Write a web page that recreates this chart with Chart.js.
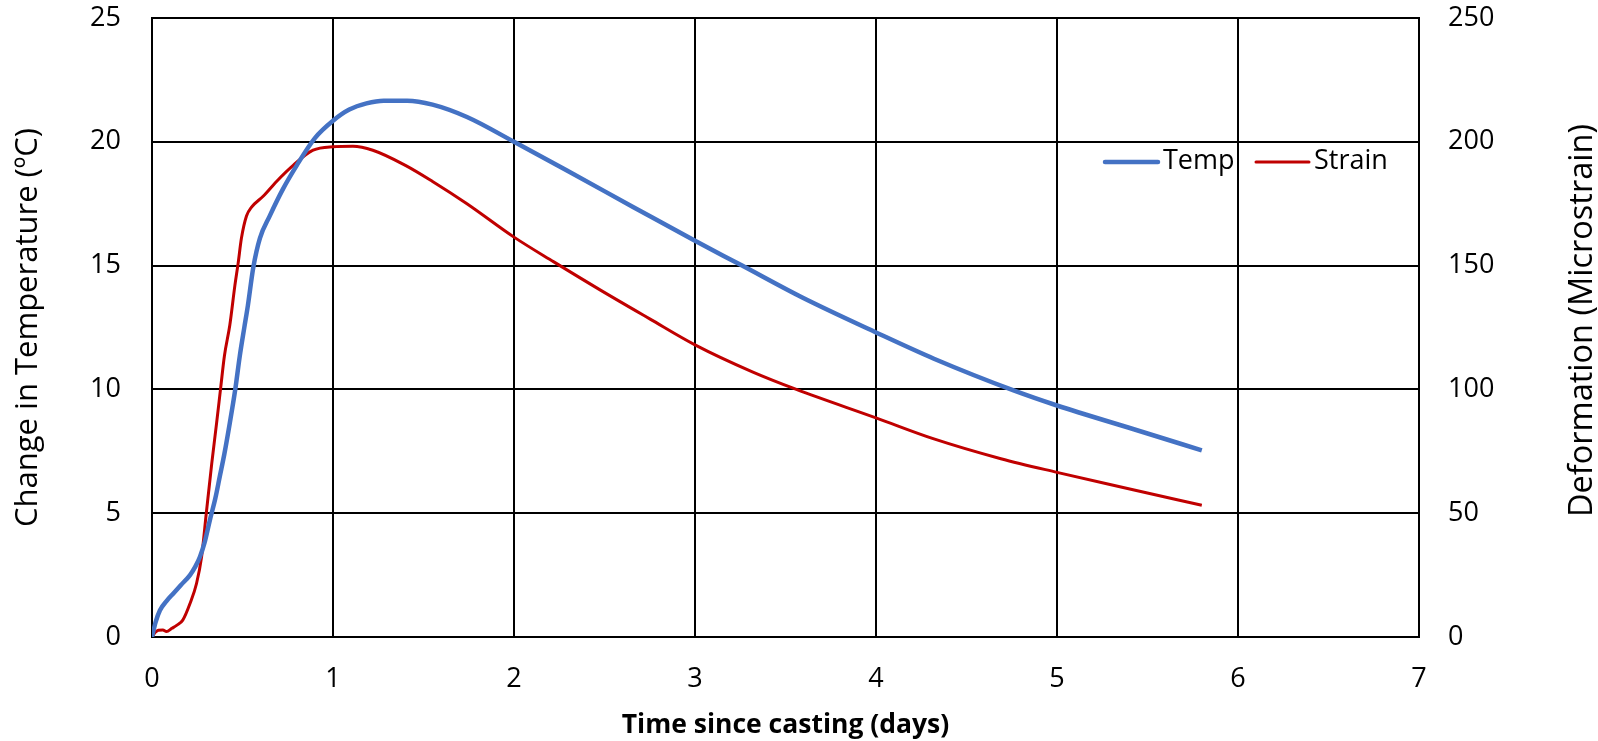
<!DOCTYPE html>
<html>
<head>
<meta charset="utf-8">
<script src="https://cdn.jsdelivr.net/npm/chart.js@4"></script>
<style>
  body { margin: 0; background: #fff; }
  #wrap { width: 1598px; height: 741px; }
</style>
</head>
<body>
<div id="wrap"><canvas id="tempStrainChart" width="1598" height="741"></canvas></div>
<script>
// values
var tempDays = [0, 0.02, 0.044, 0.08, 0.118, 0.16, 0.21, 0.24, 0.265, 0.29, 0.32, 0.35, 0.375, 0.40, 0.43, 0.46, 0.485, 0.51, 0.53, 0.559, 0.596, 0.65, 0.724, 0.80, 0.90, 1.0, 1.09, 1.185, 1.28, 1.41, 1.55, 1.74, 2.0, 2.29, 2.66, 3.0, 3.26, 3.59, 4.0, 4.32, 4.76, 5.0, 5.42, 5.8];
var tempValues = [0, 0.6, 1.08, 1.45, 1.76, 2.1, 2.5, 2.85, 3.24, 3.8, 4.73, 5.6, 6.5, 7.4, 8.65, 10.0, 11.35, 12.5, 13.4, 14.9, 16.1, 17.0, 18.1, 19.05, 20.15, 20.85, 21.3, 21.55, 21.66, 21.66, 21.5, 21.0, 20.0, 18.85, 17.36, 16.0, 15.0, 13.72, 12.3, 11.24, 9.96, 9.35, 8.4, 7.54];

var strainDays = [0, 0.02, 0.035, 0.06, 0.08, 0.11, 0.136, 0.17, 0.21, 0.246, 0.274, 0.30, 0.33, 0.357, 0.38, 0.40, 0.43, 0.458, 0.476, 0.494, 0.522, 0.55, 0.614, 0.688, 0.78, 0.89, 1.0, 1.11, 1.22, 1.40, 1.55, 1.74, 2.0, 2.22, 2.48, 2.75, 3.0, 3.32, 3.56, 4.0, 4.32, 4.69, 5.0, 5.42, 5.8];
var strainValues = [0, 2, 2.7, 2.8, 2.2, 3.5, 4.7, 6.8, 13.5, 21.6, 32.4, 50, 70, 86.5, 101, 113.5, 126, 142, 151, 161, 170, 173.6, 178, 184, 190.5, 196.6, 198, 198.2, 196.6, 190.5, 184, 175, 161.5, 151.5, 140, 128.5, 118, 107, 100, 88.5, 80, 72, 66.5, 59.5, 53.2];

var seriesNames = ['Temp', 'Strain'];
var xTitle = 'Time since casting (days)';
var yTitle = 'Change in Temperature (ºC)';
var y1Title = 'Deformation (Microstrain)';

var FONT = "'Open Sans', sans-serif";

function toPoints(xs, ys) {
    return xs.map(function (x, i) { return { x: x, y: ys[i] }; });
}

// legend drawn inside the plot, like the original
var insideLegend = {
    id: 'insideLegend',
    afterDatasetsDraw: function (chart) {
        var ctx = chart.ctx;
        var area = chart.chartArea;
        var y = area.top + 144;
        var items = [
            { x: area.right - 314, color: '#4472C4', width: 4.5, text: seriesNames[0] },
            { x: area.right - 163, color: '#C00000', width: 3, text: seriesNames[1] }
        ];
        ctx.save();
        ctx.font = '27px ' + FONT;
        ctx.textBaseline = 'middle';
        ctx.fillStyle = '#000';
        items.forEach(function (it) {
            ctx.beginPath();
            ctx.lineCap = 'round';
            ctx.strokeStyle = it.color;
            ctx.lineWidth = it.width;
            ctx.moveTo(it.x, y);
            ctx.lineTo(it.x + 53, y);
            ctx.stroke();
            ctx.fillText(it.text, it.x + 58, y - 1);
        });
        ctx.restore();
    }
};

// right axis title reads bottom-to-top, as in the original
var rightTitle = {
    id: 'rightTitle',
    afterDraw: function (chart) {
        var ctx = chart.ctx;
        var area = chart.chartArea;
        ctx.save();
        ctx.translate(1583, (area.top + area.bottom) / 2 - 7);
        ctx.rotate(-Math.PI / 2);
        ctx.font = '32.5px ' + FONT;
        ctx.textAlign = 'center';
        ctx.textBaseline = 'middle';
        ctx.fillStyle = '#000';
        ctx.fillText(y1Title, 0, 0);
        ctx.restore();
    }
};

function noVPad(s) { s.paddingTop = 0; s.paddingBottom = 0; }

var ctx = document.getElementById('tempStrainChart');

var tempStrainChart = new Chart(ctx, {
    type: 'line',
    data: {
        datasets: [{
            label: seriesNames[0],
            data: toPoints(tempDays, tempValues),
            borderColor: '#4472C4',
            borderWidth: 4.5,
            yAxisID: 'y',
            pointRadius: 0,
            cubicInterpolationMode: 'monotone'
        }, {
            label: seriesNames[1],
            data: toPoints(strainDays, strainValues),
            borderColor: '#C00000',
            borderWidth: 3,
            yAxisID: 'y1',
            pointRadius: 0,
            cubicInterpolationMode: 'monotone'
        }]
    },
    options: {
        responsive: false,
        animation: false,
        layout: { padding: { top: 18, left: 0, right: 0, bottom: 0 } },
        plugins: {
            legend: { display: false },
            tooltip: { enabled: false }
        },
        scales: {
            x: {
                type: 'linear',
                min: 0,
                max: 7,
                ticks: { stepSize: 1, padding: 26, color: '#000', font: { family: FONT, size: 27 } },
                grid: { color: '#000', lineWidth: 2, drawTicks: false },
                border: { color: '#000', width: 2 },
                title: { display: true, text: xTitle, color: '#000', padding: 0, font: { family: FONT, size: 26.5, weight: 'bold' } },
                afterFit: function (s) { s.height = 104; s.paddingLeft = 0; s.paddingRight = 0; }
            },
            y: {
                position: 'left',
                min: 0,
                max: 25,
                ticks: { stepSize: 5, padding: 31, color: '#000', font: { family: FONT, size: 27 } },
                grid: { color: '#000', lineWidth: 2, drawTicks: false },
                border: { color: '#000', width: 2 },
                title: { display: true, text: yTitle, color: '#000', padding: { top: 10 }, font: { family: FONT, size: 31 } },
                afterFit: function (s) { s.width = 152; noVPad(s); }
            },
            y1: {
                position: 'right',
                min: 0,
                max: 250,
                ticks: { stepSize: 50, padding: 29, color: '#000', font: { family: FONT, size: 27 } },
                grid: { drawOnChartArea: false, drawTicks: false },
                border: { color: '#000', width: 2 },
                afterFit: function (s) { s.width = 179; noVPad(s); }
            }
        }
    },
    plugins: [insideLegend, rightTitle]
});
</script>
</body>
</html>
